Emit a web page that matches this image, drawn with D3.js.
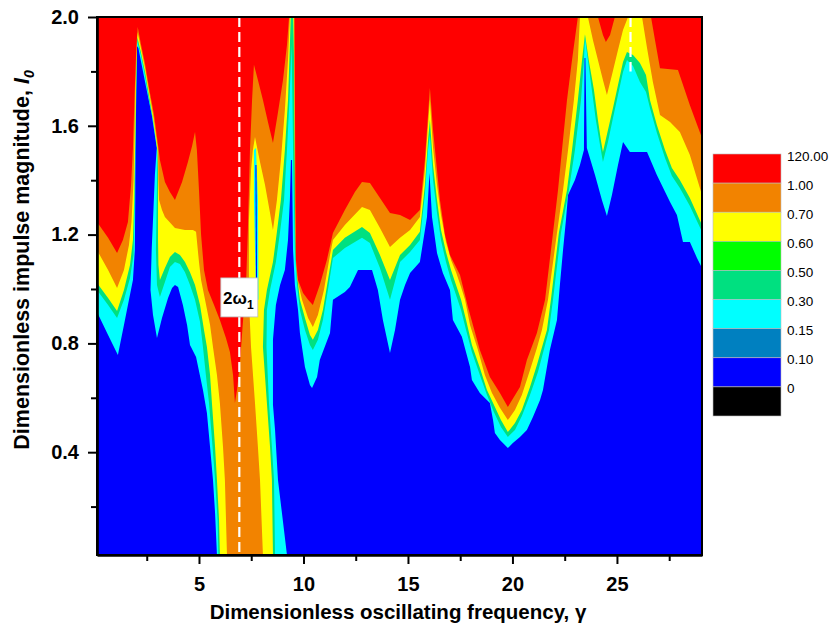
<!DOCTYPE html>
<html>
<head>
<meta charset="utf-8">
<script src="https://cdn.jsdelivr.net/npm/d3@7"></script>
<style>
  html, body { margin: 0; padding: 0; background: #fff; }
  svg { display: block; font-family: Arial, "Liberation Sans", Helvetica, sans-serif; }
</style>
</head>
<body>
<div id="chart"></div>
<script>
/* Filled contour map: impulse magnitude vs oscillating frequency.
   Each *Edge array is the traced lower boundary of one colour level
   (gamma, I0), read left to right; the level fills everything above it. */

const gammaRange   = [0.12, 29.07];
const impulseRange = [0.022, 2.0];

const xMajor = [5, 10, 15, 20, 25];
const xMinor = [2.5, 7.5, 12.5, 17.5, 22.5, 27.5];
const yMajor = [0.4, 0.8, 1.2, 1.6, 2.0];
const yMinor = [0.2, 0.6, 1.0, 1.4, 1.8];

const legendLabels = ["120.00", "1.00", "0.70", "0.60", "0.50", "0.30", "0.15", "0.10", "0"];
const legendColors = ["#ff0000", "#f28300", "#ffff00", "#00ff00", "#00e080", "#00ffff", "#0080c0", "#0000ff", "#000000"];

// blue -> cyan (0.15)
const cyanEdge = [
  [0.12,0.915],[0.65,0.831],[1.12,0.757],[1.41,0.868],[1.65,0.960],[1.84,1.033],[1.93,1.143],[1.95,1.327],
  [1.96,1.511],[1.99,1.695],[2.01,1.805],[2.03,1.893],[2.10,1.886],[2.42,1.761],[2.74,1.640],[2.98,1.518],
  [2.89,1.419],[2.81,1.272],[2.74,1.151],[2.68,0.996],[2.80,0.904],[2.99,0.820],[3.23,0.893],[3.52,0.967],
  [3.71,1.004],[3.85,1.015],[4.00,1.007],[4.23,0.941],[4.43,0.868],[4.57,0.794],[4.86,0.750],[5.19,0.629],
  [5.38,0.544],[5.53,0.419],[5.67,0.298],[5.77,0.176],[5.86,0.022],[9.21,0.022],[8.97,0.176],[8.78,0.298],
  [8.64,0.482],[8.54,0.574],[8.54,0.813],[8.68,0.941],[8.88,1.015],[9.11,1.070],[9.26,1.180],[9.35,1.327],
  [9.40,1.474],[9.45,1.474],[9.50,1.143],[9.59,1.015],[9.74,0.923],[9.83,0.838],[10.07,0.713],[10.31,0.647],
  [10.41,0.636],[10.65,0.676],[10.78,0.739],[11.27,0.838],[11.41,0.960],[11.98,0.989],[12.22,1.007],[12.61,1.070],
  [13.28,1.070],[13.56,0.996],[13.80,0.886],[14.14,0.765],[14.38,0.849],[14.62,0.960],[14.86,1.015],[15.10,1.059],
  [15.57,1.099],[15.91,1.265],[16.03,1.426],[16.15,1.265],[16.39,1.132],[16.67,1.059],[17.01,0.996],[17.15,0.886],
  [17.58,0.824],[17.97,0.713],[18.06,0.665],[18.44,0.618],[18.92,0.581],[19.07,0.518],[19.16,0.471],[19.40,0.445],
  [19.78,0.415],[20.02,0.434],[20.36,0.456],[20.69,0.482],[20.98,0.529],[21.32,0.592],[21.46,0.629],[21.65,0.713],
  [21.79,0.776],[22.13,0.886],[22.27,1.015],[22.42,1.143],[22.56,1.254],[22.66,1.346],[22.99,1.401],[23.23,1.456],
  [23.42,1.511],[23.45,1.849],[23.49,1.849],[23.56,1.518],[23.95,1.419],[24.28,1.327],[24.52,1.268],[24.76,1.346],
  [25.05,1.456],[25.29,1.540],[25.62,1.504],[26.44,1.504],[26.91,1.419],[27.54,1.320],[27.87,1.272],[28.16,1.173],
  [28.49,1.173],[28.83,1.114],[29.07,1.077]
];

// cyan -> mint/green (0.30)
const mintEdge = [
  [0.12,0.996],[0.65,0.941],[1.08,0.893],[1.41,0.960],[1.70,1.040],[1.87,1.125],[1.92,1.290],[1.95,1.474],
  [1.99,1.658],[2.02,1.824],[2.04,1.912],[2.22,1.860],[2.42,1.783],[2.61,1.695],[2.78,1.629],[3.00,1.515],
  [3.00,1.437],[2.97,1.290],[2.94,1.143],[2.99,1.015],[3.13,0.971],[3.37,1.026],[3.61,1.081],[3.85,1.099],
  [4.09,1.092],[4.33,1.062],[4.57,1.015],[4.81,0.960],[5.05,0.879],[5.19,0.787],[5.33,0.684],[5.48,0.581],
  [5.65,0.419],[5.77,0.298],[5.89,0.151],[5.93,0.022],[8.64,0.022],[8.59,0.298],[8.49,0.419],[8.35,0.581],
  [8.23,0.787],[8.25,0.923],[8.40,0.996],[8.68,1.099],[8.88,1.210],[9.07,1.327],[9.21,1.511],[9.33,1.695],
  [9.43,1.897],[9.47,1.695],[9.52,1.401],[9.59,1.143],[9.69,1.015],[9.83,0.923],[10.07,0.849],[10.31,0.794],
  [10.45,0.776],[10.69,0.813],[10.93,0.886],[11.17,0.996],[11.41,1.114],[11.98,1.151],[12.80,1.188],[13.18,1.169],
  [13.66,1.077],[14.14,0.960],[14.62,1.099],[15.10,1.136],[15.57,1.180],[15.81,1.346],[15.96,1.511],[16.05,1.566],
  [16.20,1.401],[16.39,1.279],[16.58,1.180],[16.82,1.099],[17.06,1.033],[17.30,0.978],[17.54,0.923],[17.78,0.849],
  [18.06,0.768],[18.44,0.684],[18.78,0.610],[19.11,0.548],[19.45,0.493],[19.78,0.456],[20.12,0.482],[20.45,0.533],
  [20.84,0.610],[21.22,0.695],[21.75,0.849],[21.94,0.960],[22.32,1.206],[22.70,1.364],[22.99,1.511],[23.28,1.695],
  [23.42,1.842],[23.47,1.923],[23.61,1.842],[23.80,1.732],[23.99,1.621],[24.19,1.529],[24.33,1.467],[24.57,1.540],
  [24.81,1.629],[25.05,1.713],[25.29,1.798],[25.48,1.842],[25.77,1.820],[26.10,1.761],[26.39,1.724],[26.58,1.665],
  [26.91,1.574],[27.30,1.482],[27.63,1.415],[28.01,1.371],[28.49,1.305],[29.07,1.210]
];

// mint -> yellow (0.60)
const yellowEdge = [
  [0.12,1.022],[0.65,0.967],[1.08,0.919],[1.41,0.996],[1.70,1.088],[1.84,1.180],[1.90,1.327],[1.94,1.511],
  [1.98,1.695],[2.01,1.842],[2.05,1.926],[2.22,1.871],[2.42,1.798],[2.61,1.710],[2.80,1.625],[3.01,1.511],
  [3.04,1.437],[3.04,1.180],[3.06,1.088],[3.13,1.033],[3.37,1.077],[3.61,1.118],[3.85,1.136],[4.09,1.125],
  [4.33,1.099],[4.57,1.062],[4.81,1.015],[5.05,0.941],[5.24,0.849],[5.38,0.787],[5.53,0.684],[5.62,0.581],
  [5.77,0.419],[5.86,0.298],[5.96,0.151],[6.00,0.022],[8.54,0.022],[8.49,0.298],[8.40,0.419],[8.25,0.581],
  [8.06,0.787],[8.11,0.923],[8.25,0.996],[8.54,1.099],[8.73,1.210],[8.92,1.327],[9.11,1.511],[9.26,1.695],
  [9.35,1.897],[9.39,2.0],[9.51,2.0],[9.55,1.842],[9.58,1.511],[9.62,1.217],[9.69,1.051],[9.83,0.960],
  [10.07,0.893],[10.31,0.831],[10.45,0.813],[10.69,0.849],[10.93,0.923],[11.17,1.033],[11.41,1.143],[11.98,1.188],
  [12.80,1.228],[13.18,1.206],[13.66,1.125],[14.14,1.033],[14.62,1.125],[15.10,1.162],[15.57,1.210],[15.81,1.382],
  [15.96,1.548],[16.05,1.621],[16.20,1.456],[16.39,1.327],[16.58,1.217],[16.82,1.136],[17.06,1.070],[17.30,1.015],
  [17.54,0.960],[17.78,0.886],[18.06,0.794],[18.44,0.710],[18.78,0.629],[19.11,0.574],[19.45,0.518],[19.78,0.474],
  [20.12,0.507],[20.45,0.555],[20.84,0.640],[21.17,0.721],[21.65,0.849],[21.84,0.960],[22.22,1.206],[22.61,1.364],
  [22.85,1.511],[23.13,1.695],[23.33,1.842],[23.47,1.937],[23.65,1.842],[23.90,1.732],[24.09,1.621],[24.23,1.548],
  [24.33,1.504],[24.57,1.585],[24.81,1.665],[25.05,1.750],[25.29,1.835],[25.48,1.871],[25.77,1.860],[26.10,1.831],
  [26.39,1.787],[26.58,1.695],[26.91,1.603],[27.30,1.511],[27.63,1.445],[28.01,1.401],[28.49,1.335],[29.07,1.235]
];

// yellow -> orange (0.70)
const orangeEdge = [
  [0.12,1.143],[0.65,1.070],[1.08,1.004],[1.41,1.070],[1.65,1.162],[1.77,1.246],[1.87,1.401],[1.91,1.548],
  [1.96,1.732],[2.01,1.860],[2.06,1.945],[2.22,1.886],[2.42,1.812],[2.61,1.724],[2.82,1.632],[3.04,1.511],
  [3.06,1.401],[3.09,1.327],[3.23,1.290],[3.37,1.265],[3.85,1.224],[4.33,1.217],[4.71,1.217],[4.86,1.210],
  [5.00,1.099],[5.10,1.033],[5.29,0.960],[5.53,0.868],[5.67,0.787],[5.86,0.684],[6.00,0.581],[6.15,0.419],
  [6.24,0.298],[6.34,0.022],[8.06,0.022],[7.92,0.298],[7.82,0.419],[7.68,0.581],[7.49,0.787],[7.39,0.960],
  [7.39,1.254],[7.49,1.437],[7.58,1.511],[7.68,1.559],[7.92,1.467],[8.16,1.382],[8.40,1.279],[8.54,1.217],
  [8.73,1.327],[8.92,1.474],[9.11,1.658],[9.26,1.842],[9.35,2.0],[9.55,2.0],[9.57,1.695],[9.59,1.327],
  [9.64,1.099],[9.71,1.033],[9.93,0.960],[10.22,0.893],[10.45,0.860],[10.69,0.904],[10.98,0.996],[11.27,1.125],
  [11.41,1.180],[11.98,1.235],[12.80,1.301],[13.18,1.290],[13.66,1.224],[14.14,1.154],[14.62,1.188],[15.10,1.217],
  [15.57,1.265],[15.81,1.437],[15.96,1.603],[16.05,1.695],[16.20,1.518],[16.39,1.382],[16.58,1.272],[16.82,1.173],
  [17.06,1.107],[17.30,1.062],[17.54,1.007],[17.73,0.960],[17.97,0.868],[18.35,0.776],[18.68,0.684],[19.02,0.618],
  [19.40,0.563],[19.78,0.518],[20.12,0.555],[20.45,0.610],[20.84,0.702],[21.17,0.783],[21.41,0.849],[21.70,0.960],
  [22.13,1.206],[22.42,1.364],[22.66,1.511],[22.94,1.695],[23.13,1.842],[23.23,2.0],[23.61,2.0],[23.85,1.915],
  [24.09,1.842],[24.33,1.768],[24.52,1.713],[24.76,1.787],[25.05,1.879],[25.29,1.952],[25.53,2.0],[26.20,2.0],
  [26.44,1.886],[26.72,1.761],[27.06,1.640],[27.54,1.614],[28.01,1.577],[28.49,1.493],[29.07,1.346]
];

// orange -> red (1.00)
const redEdge = [
  [0.12,1.246],[0.65,1.188],[1.08,1.132],[1.36,1.180],[1.60,1.246],[1.75,1.382],[1.84,1.518],[1.91,1.695],
  [1.96,1.805],[2.01,1.897],[2.07,1.963],[2.22,1.901],[2.42,1.827],[2.61,1.739],[2.85,1.640],[3.06,1.518],
  [3.13,1.474],[3.37,1.393],[3.61,1.357],[3.85,1.327],[4.19,1.393],[4.47,1.467],[4.67,1.526],[4.81,1.577],
  [4.90,1.511],[5.00,1.364],[5.10,1.199],[5.24,1.070],[5.43,0.996],[5.72,0.941],[6.00,0.886],[6.29,0.820],
  [6.48,0.768],[6.63,0.684],[6.72,0.581],[6.82,0.629],[6.96,0.728],[7.11,0.886],[7.25,1.015],[7.34,1.217],
  [7.44,1.511],[7.54,1.695],[7.63,1.824],[7.82,1.768],[8.06,1.695],[8.30,1.614],[8.54,1.537],[8.76,1.640],
  [9.02,1.768],[9.21,1.897],[9.31,2.0],[9.57,2.0],[9.59,1.695],[9.62,1.327],[9.64,1.107],[9.74,1.033],
  [9.98,0.985],[10.22,0.960],[10.45,0.941],[10.78,1.015],[11.12,1.107],[11.41,1.206],[11.98,1.290],[12.46,1.357],
  [12.80,1.393],[13.18,1.390],[13.66,1.335],[14.14,1.279],[14.62,1.272],[15.10,1.254],[15.57,1.290],[15.81,1.474],
  [15.96,1.640],[16.05,1.739],[16.20,1.585],[16.39,1.437],[16.53,1.327],[16.77,1.199],[17.01,1.125],[17.25,1.088],
  [17.49,1.051],[17.73,0.978],[17.87,0.934],[18.44,0.776],[18.92,0.676],[19.40,0.618],[19.78,0.566],[20.36,0.640],
  [20.69,0.739],[21.17,0.838],[21.56,0.960],[21.94,1.206],[22.18,1.364],[22.37,1.511],[22.61,1.695],[22.85,1.842],
  [23.13,2.0],[24.09,2.0],[24.33,1.934],[24.47,1.908],[24.67,1.934],[24.90,2.0],[26.63,2.0],[26.82,1.915],
  [27.06,1.812],[27.92,1.805],[28.49,1.676],[29.07,1.555]
];

// thin low-value streak inside the yellow tongue near gamma ~7.7
const sliverCyan = [[7.63,1.511],[7.73,1.518],[7.82,1.327],[7.85,0.960],[7.73,0.960],[7.63,1.327]];
const sliverBlue = [[7.70,1.456],[7.75,1.456],[7.78,0.996],[7.73,0.996]];

// dashed reference lines: [gamma, from I0, to I0]
const refLines = [[6.93, 0.022, 2.0], [25.65, 1.80, 2.0]];

const W = 833, H = 628;
const plot = { left: 97, right: 702, top: 17, bottom: 555 };

const svg = d3.select("#chart").append("svg")
  .attr("width", W).attr("height", H)
  .attr("viewBox", `0 0 ${W} ${H}`);

const x = d3.scaleLinear().domain(gammaRange).range([plot.left, plot.right]);
const y = d3.scaleLinear().domain(impulseRange).range([plot.bottom, plot.top]);

svg.append("clipPath").attr("id", "plot-clip")
  .append("rect")
    .attr("x", plot.left).attr("y", plot.top)
    .attr("width", plot.right - plot.left).attr("height", plot.bottom - plot.top);

const field = svg.append("g").attr("clip-path", "url(#plot-clip)");

// lowest visible level fills the whole frame
field.append("rect")
  .attr("x", plot.left).attr("y", plot.top)
  .attr("width", plot.right - plot.left).attr("height", plot.bottom - plot.top)
  .attr("fill", "#0000ff");

const line = d3.line().x(d => x(d[0])).y(d => y(d[1]));

// each level is closed along the top edge of the plot, painted low -> high
const levels = [
  { edge: cyanEdge,   color: "#00ffff" },
  { edge: mintEdge,   color: "#00e080" },
  { edge: yellowEdge, color: "#ffff00" },
  { edge: orangeEdge, color: "#f28300" },
  { edge: redEdge,    color: "#ff0000" }
];

field.selectAll(".level")
  .data(levels)
  .join("path")
    .attr("class", "level")
    .attr("fill", d => d.color)
    .attr("d", d => line([[gammaRange[0], impulseRange[1]], ...d.edge, [gammaRange[1], impulseRange[1]]]) + "Z");

field.append("path").attr("d", line(sliverCyan) + "Z").attr("fill", "#00ffff");
field.append("path").attr("d", line(sliverBlue) + "Z").attr("fill", "#0000ff");

// white dashed markers
field.selectAll(".ref")
  .data(refLines)
  .join("line")
    .attr("x1", d => x(d[0])).attr("x2", d => x(d[0]))
    .attr("y1", d => y(d[2])).attr("y2", d => y(d[1]))
    .attr("stroke", "#fff").attr("stroke-width", 2.2)
    .attr("stroke-dasharray", "10,5");

// 2ω1 tag sitting on the first marker
const tagX = x(refLines[0][0]), tagY = y(0.969);
const tag = svg.append("g").attr("transform", `translate(${tagX},${tagY})`);
tag.append("rect")
  .attr("x", -18.5).attr("y", -19.5).attr("width", 37).attr("height", 39)
  .attr("fill", "#fff").attr("stroke", "#bbb").attr("stroke-width", 0.8);
const tagText = tag.append("text")
  .attr("x", -1).attr("y", 7)
  .attr("text-anchor", "middle")
  .attr("font-size", 17).attr("font-weight", "bold").attr("fill", "#000");
tagText.append("tspan").text("2ω");
tagText.append("tspan").attr("font-size", 12).attr("dy", 5).text("1");

// frame
svg.append("rect")
  .attr("x", plot.left).attr("y", plot.top)
  .attr("width", plot.right - plot.left).attr("height", plot.bottom - plot.top)
  .attr("fill", "none").attr("stroke", "#000").attr("stroke-width", 2);

function styleAxis(sel, size) {
  sel.select(".domain").attr("stroke", "#000").attr("stroke-width", 2.6);
  sel.selectAll(".tick line").attr("stroke", "#000").attr("stroke-width", 2);
  sel.selectAll(".tick text")
    .attr("font-size", size).attr("font-weight", "bold").attr("fill", "#000")
    .attr("font-family", "Arial, 'Liberation Sans', sans-serif");
}

// x axis: labelled majors, short minors
svg.append("g")
  .attr("transform", `translate(0,${plot.bottom})`)
  .call(d3.axisBottom(x).tickValues(xMajor).tickSize(9).tickSizeOuter(0).tickPadding(13).tickFormat(d3.format("d")))
  .call(g => styleAxis(g, 20));
svg.append("g")
  .attr("transform", `translate(0,${plot.bottom})`)
  .call(d3.axisBottom(x).tickValues(xMinor).tickSize(6).tickSizeOuter(0).tickFormat(""))
  .call(g => g.select(".domain").remove())
  .call(g => g.selectAll(".tick line").attr("stroke", "#000").attr("stroke-width", 2));

// y axis
svg.append("g")
  .attr("transform", `translate(${plot.left},0)`)
  .call(d3.axisLeft(y).tickValues(yMajor).tickSize(9).tickSizeOuter(0).tickPadding(9).tickFormat(d3.format(".1f")))
  .call(g => styleAxis(g, 20));
svg.append("g")
  .attr("transform", `translate(${plot.left},0)`)
  .call(d3.axisLeft(y).tickValues(yMinor).tickSize(6).tickSizeOuter(0).tickFormat(""))
  .call(g => g.select(".domain").remove())
  .call(g => g.selectAll(".tick line").attr("stroke", "#000").attr("stroke-width", 2));

// axis titles
svg.append("text")
  .attr("x", 398).attr("y", 619)
  .attr("text-anchor", "middle")
  .attr("font-size", 20.5).attr("font-weight", "bold")
  .text("Dimensionless oscillating frequency, γ");

const yTitle = svg.append("text")
  .attr("transform", "translate(29,260) rotate(-90)")
  .attr("text-anchor", "middle")
  .attr("font-size", 21.5).attr("font-weight", "bold");
yTitle.append("tspan").text("Dimensionless impulse magnitude, ");
yTitle.append("tspan").attr("font-style", "italic").text("I");
yTitle.append("tspan").attr("font-style", "italic").attr("font-size", 14).attr("dy", 5).text("0");

// colour key
const legendX = 713, legendW = 68;
const ly = d3.scaleLinear().domain([0, legendColors.length]).range([154, 416]);
const legend = svg.append("g");
legend.selectAll("rect")
  .data(legendColors)
  .join("rect")
    .attr("x", legendX).attr("y", (d, i) => ly(i))
    .attr("width", legendW).attr("height", (d, i) => ly(i + 1) - ly(i))
    .attr("fill", d => d)
    .attr("stroke", "#bbb").attr("stroke-width", 0.6);
legend.selectAll("text")
  .data(legendLabels)
  .join("text")
    .attr("x", legendX + legendW + 6).attr("y", (d, i) => ly(i) + 2)
    .attr("dominant-baseline", "central")
    .attr("font-size", 13.5).attr("fill", "#000")
    .text(d => d);
</script>
</body>
</html>
